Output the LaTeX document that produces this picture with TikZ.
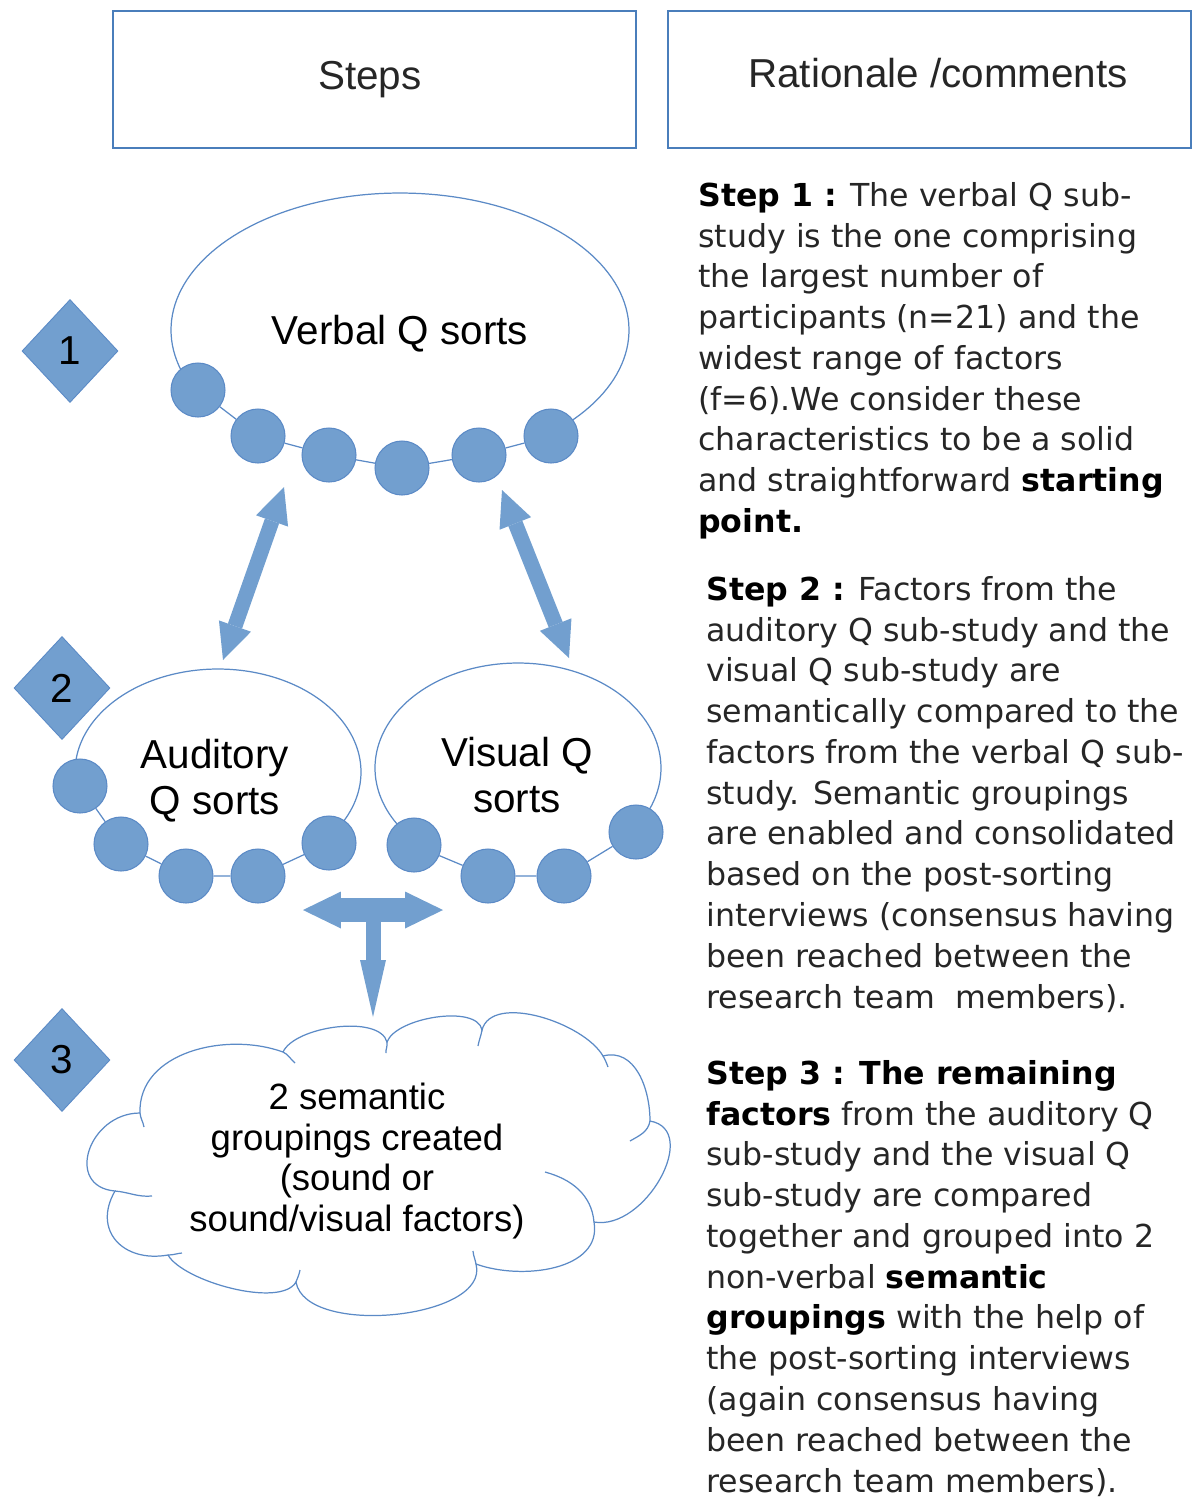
\documentclass[tikz,border=0pt]{standalone}
\usepackage{fontspec}
\setmainfont{Liberation Sans}
\newfontfamily\djv{DejaVu Sans}
\usetikzlibrary{shapes.geometric,arrows.meta}
\definecolor{qblue}{HTML}{729FCF}
\definecolor{qline}{HTML}{5B8AC6}
\definecolor{qbox}{HTML}{4A7EBB}
\definecolor{qtext}{HTML}{262626}
\begin{document}
\begin{tikzpicture}[x=0.02cm,y=-0.02cm,
  hdrbox/.style={draw=qbox, line width=0.9pt, minimum width=10.46cm, minimum height=2.74cm, inner sep=0pt},
  hdrtxt/.style={font=\fontsize{23}{27}\selectfont, text=qtext, inner sep=0pt},
  numdia/.style={diamond, fill=qblue, draw=qline, line width=0.5pt, minimum width=1.92cm, minimum height=2.06cm, inner sep=0pt, font=\fontsize{23}{27}\selectfont, text=black},
  bead/.style={circle, fill=qblue, draw=qline, line width=0.6pt, minimum size=1.08cm, inner sep=0pt},
  qoutline/.style={draw=qline, line width=0.7pt},
  bigtxt/.style={font=\fontsize{23}{26.3}\selectfont, text=black, align=center, inner sep=0pt},
  cloudtxt/.style={font=\fontsize{20.8}{23}\selectfont, text=black, align=center, inner sep=0pt},
  ratio/.style={font=\djv\fontsize{18}{23.2}\selectfont, text=qtext, align=left, inner sep=0pt, anchor=north west},
  diagarrow/.style={draw=qblue, line width=0.3cm, arrows={Triangle[length=0.72cm,width=0.68cm,line width=0pt]-Triangle[length=0.72cm,width=0.68cm,line width=0pt]}},
  horarrow/.style={draw=qblue, line width=0.48cm, arrows={Triangle[length=0.76cm,width=0.74cm,line width=0pt]-Triangle[length=0.76cm,width=0.74cm,line width=0pt]}},
  verarrow/.style={draw=qblue, line width=0.3cm, arrows={-Triangle[length=1.14cm,width=0.52cm,line width=0pt]}},
]
\useasboundingbox (0,0) rectangle (1199,1499);

% header boxes
\node[hdrbox] (steps) at (374.5,79.5) {};
\node[hdrtxt] (stepstxt) at (370,80) {Steps};
\node[hdrbox] (rat) at (929.5,79.5) {};
\node[hdrtxt] (rattxt) at (938,73) {Rationale /comments};

% step diamonds
\node[numdia] (d1) at (70,351) {1};
\node[numdia] (d2) at (62,688) {2};
\node[numdia] (d3) at (62,1060) {3};

% ellipse arcs (drawn before beads)
\draw[qoutline] plot[domain=-49:208, samples=120] ({400+229*cos(\x)},{330-137*sin(\x)});
\draw[qoutline] plot[domain=-40:196, samples=120] ({218+143*cos(\x)},{772-103*sin(\x)});
\draw[qoutline] plot[domain=-34:223, samples=120] ({518+143*cos(\x)},{768-105*sin(\x)});

% verbal beads
\node[bead] (v1) at (198,390) {};
\node[bead] (v2) at (258,436) {};
\node[bead] (v3) at (329,455) {};
\node[bead] (v4) at (402,468) {};
\node[bead] (v5) at (479,455) {};
\node[bead] (v6) at (551,436) {};
\draw[qoutline] (v1) -- (v2) -- (v3) -- (v4) -- (v5) -- (v6);

% auditory beads
\node[bead] (a1) at (80,786) {};
\node[bead] (a2) at (121,844) {};
\node[bead] (a3) at (186,876) {};
\node[bead] (a4) at (258,876) {};
\node[bead] (a5) at (329,843) {};
\draw[qoutline] (a1) -- (a2) -- (a3) -- (a4) -- (a5);

% visual beads
\node[bead] (b1) at (414,845) {};
\node[bead] (b2) at (488,876) {};
\node[bead] (b3) at (564,876) {};
\node[bead] (b4) at (636,832) {};
\draw[qoutline] (b1) -- (b2) -- (b3) -- (b4);

% labels
\node[bigtxt] (verbal) at (400,334) {Verbal Q sorts};
\node[bigtxt] (aud) at (215,781) {Auditory\\Q sorts};
\node[bigtxt] (vis) at (517,775) {Visual Q\\sorts};

% block arrows
\coordinate (l1) at (284,487);
\coordinate (l2) at (223,660);
\coordinate (r1) at (502,490);
\coordinate (r2) at (569,658);
\draw[diagarrow] (l1) -- (l2);
\draw[diagarrow] (r1) -- (r2);
\coordinate (tl) at (303,910);
\coordinate (tr) at (443,910);
\coordinate (tm) at (373,910);
\coordinate (tb) at (373,1017);
\draw[horarrow] (tl) -- (tr);
\draw[verarrow] (tm) -- (tb);

% cloud outline
\coordinate (j1) at (140,1113);
\coordinate (j2) at (283,1052);
\coordinate (j3) at (387,1042);
\coordinate (j4) at (482,1030);
\coordinate (j5) at (603,1056);
\coordinate (j6) at (650,1121);
\coordinate (j7) at (594,1222);
\coordinate (j8) at (476,1264);
\coordinate (j9) at (296,1282);
\coordinate (j10) at (168,1255);
\coordinate (j11) at (115,1191);
\draw[qoutline] (j1) to[out=92,in=160] (j2)
  to[out=65,in=105,looseness=0.7] (j3)
  to[out=70,in=100,looseness=0.7] (j4)
  to[out=75,in=120,looseness=0.8] (j5)
  to[out=15,in=90,looseness=1.05] (j6)
  to[out=-10,in=-10,looseness=1.15] (j7)
  to[out=-80,in=-20] (j8)
  to[out=-75,in=-80,looseness=0.8] (j9)
  to[out=-120,in=-60,looseness=0.6] (j10)
  to[out=-170,in=-120,looseness=1.4] (j11)
  to[out=175,in=180,looseness=1.6] (j1);
% inner tails of the puffs
\draw[qoutline] (j1) to[out=-85,in=100] (144,1127);
\draw[qoutline] (j2) to[out=-25,in=140] (295,1063);
\draw[qoutline] (j3) to[out=-80,in=95] (386,1053);
\draw[qoutline] (j4) to[out=-100,in=80] (478,1046);
\draw[qoutline] (j5) to[out=-60,in=110] (608,1067);
\draw[qoutline] (j6) to[out=-100,in=30] (630,1141);
\draw[qoutline] (545,1172) to[out=-15,in=95] (j7);
\draw[qoutline] (j8) to[out=100,in=-85] (473,1251);
\draw[qoutline] (j9) to[out=70,in=-100] (300,1270);
\draw[qoutline] (j10) to[out=0,in=185] (182,1253);
\draw[qoutline] (j11) to[out=-5,in=185] (152,1196);
\node[cloudtxt] (cltxt) at (357,1161) {2 semantic\\groupings created\\(sound or\\sound/visual factors)};

% rationale text
\node[ratio] (s1) at (698,182) {\textbf{\color{black}Step 1 :} The verbal Q sub-\\
study is the one comprising\\
the largest number of\\
participants (n=21) and the\\
widest range of factors\\
(f=6).We consider these\\
characteristics to be a solid\\
and straightforward \textbf{\color{black}starting}\\
\textbf{\color{black}point.}};

\node[ratio] (s2) at (706,576) {\textbf{\color{black}Step 2 :} Factors from the\\
auditory Q sub-study and the\\
visual Q sub-study are\\
semantically compared to the\\
factors from the verbal Q sub-\\
study. Semantic groupings\\
are enabled and consolidated\\
based on the post-sorting\\
interviews (consensus having\\
been reached between the\\
research team\ \ members).};

\node[ratio] (s3) at (706,1060) {\textbf{\color{black}Step 3 : The remaining}\\
\textbf{\color{black}factors} from the auditory Q\\
sub-study and the visual Q\\
sub-study are compared\\
together and grouped into 2\\
non-verbal \textbf{\color{black}semantic}\\
\textbf{\color{black}groupings} with the help of\\
the post-sorting interviews\\
(again consensus having\\
been reached between the\\
research team members).};
\end{tikzpicture}
\end{document}
